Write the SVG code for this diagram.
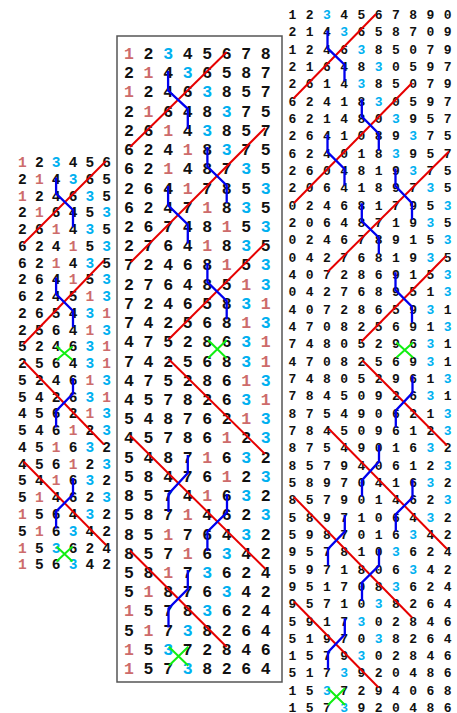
<svg xmlns="http://www.w3.org/2000/svg" width="457" height="713" viewBox="0 0 457 713">
<style>
.t{font-family:"Liberation Mono","Courier New",monospace;font-weight:bold;text-anchor:middle;fill:#111}
.L{font-size:14.5px}.M{font-size:16.5px}.R{font-size:13px}
.r{fill:#cd6b6b}.c{fill:#00b0f0}
.red{stroke:#e60000;stroke-width:2;fill:none}
.blu{stroke:#0000ee;stroke-width:2.3;fill:none}
.grn{stroke:#11ee11;stroke-width:2;fill:none}
</style>
<rect width="457" height="713" fill="#fff"/>
<g id="left" class="t L">
<text x="22.4 39.3 56.1 73.0 89.8 106.7" y="167.0"><tspan class="r">1</tspan>2<tspan class="c">3</tspan>456</text>
<text x="22.4 39.3 56.1 73.0 89.8 106.7" y="183.8">2<tspan class="r">1</tspan>4<tspan class="c">3</tspan>65</text>
<text x="22.4 39.3 56.1 73.0 89.8 106.7" y="200.5"><tspan class="r">1</tspan>246<tspan class="c">3</tspan>5</text>
<text x="22.4 39.3 56.1 73.0 89.8 106.7" y="217.3">2<tspan class="r">1</tspan>645<tspan class="c">3</tspan></text>
<text x="22.4 39.3 56.1 73.0 89.8 106.7" y="234.0">26<tspan class="r">1</tspan>4<tspan class="c">3</tspan>5</text>
<text x="22.4 39.3 56.1 73.0 89.8 106.7" y="250.8">624<tspan class="r">1</tspan>5<tspan class="c">3</tspan></text>
<text x="22.4 39.3 56.1 73.0 89.8 106.7" y="267.6">62<tspan class="r">1</tspan>4<tspan class="c">3</tspan>5</text>
<text x="22.4 39.3 56.1 73.0 89.8 106.7" y="284.3">264<tspan class="r">1</tspan>5<tspan class="c">3</tspan></text>
<text x="22.4 39.3 56.1 73.0 89.8 106.7" y="301.1">6245<tspan class="r">1</tspan><tspan class="c">3</tspan></text>
<text x="22.4 39.3 56.1 73.0 89.8 106.7" y="317.8">2654<tspan class="c">3</tspan><tspan class="r">1</tspan></text>
<text x="22.4 39.3 56.1 73.0 89.8 106.7" y="334.6">2564<tspan class="r">1</tspan><tspan class="c">3</tspan></text>
<text x="22.4 39.3 56.1 73.0 89.8 106.7" y="351.4">5246<tspan class="c">3</tspan><tspan class="r">1</tspan></text>
<text x="22.4 39.3 56.1 73.0 89.8 106.7" y="368.1">2564<tspan class="c">3</tspan><tspan class="r">1</tspan></text>
<text x="22.4 39.3 56.1 73.0 89.8 106.7" y="384.9">5246<tspan class="r">1</tspan><tspan class="c">3</tspan></text>
<text x="22.4 39.3 56.1 73.0 89.8 106.7" y="401.6">5426<tspan class="c">3</tspan><tspan class="r">1</tspan></text>
<text x="22.4 39.3 56.1 73.0 89.8 106.7" y="418.4">4562<tspan class="r">1</tspan><tspan class="c">3</tspan></text>
<text x="22.4 39.3 56.1 73.0 89.8 106.7" y="435.2">546<tspan class="r">1</tspan>2<tspan class="c">3</tspan></text>
<text x="22.4 39.3 56.1 73.0 89.8 106.7" y="451.9">45<tspan class="r">1</tspan>6<tspan class="c">3</tspan>2</text>
<text x="22.4 39.3 56.1 73.0 89.8 106.7" y="468.7">456<tspan class="r">1</tspan>2<tspan class="c">3</tspan></text>
<text x="22.4 39.3 56.1 73.0 89.8 106.7" y="485.4">54<tspan class="r">1</tspan>6<tspan class="c">3</tspan>2</text>
<text x="22.4 39.3 56.1 73.0 89.8 106.7" y="502.2">5<tspan class="r">1</tspan>462<tspan class="c">3</tspan></text>
<text x="22.4 39.3 56.1 73.0 89.8 106.7" y="519.0"><tspan class="r">1</tspan>564<tspan class="c">3</tspan>2</text>
<text x="22.4 39.3 56.1 73.0 89.8 106.7" y="535.7">5<tspan class="r">1</tspan>6<tspan class="c">3</tspan>42</text>
<text x="22.4 39.3 56.1 73.0 89.8 106.7" y="552.5"><tspan class="r">1</tspan>5<tspan class="c">3</tspan>624</text>
<text x="22.4 39.3 56.1 73.0 89.8 106.7" y="569.2"><tspan class="r">1</tspan>56<tspan class="c">3</tspan>42</text>
</g>
<g id="middle">
<rect x="117" y="36" width="165" height="646" fill="none" stroke="#555" stroke-width="1.5"/>
<g class="t M">
<text x="129 148.5 168.1 187.6 207.1 226.7 246.2 265.7" y="59.0"><tspan class="r">1</tspan>2<tspan class="c">3</tspan>45678</text>
<text x="129 148.5 168.1 187.6 207.1 226.7 246.2 265.7" y="78.2">2<tspan class="r">1</tspan>4<tspan class="c">3</tspan>6587</text>
<text x="129 148.5 168.1 187.6 207.1 226.7 246.2 265.7" y="97.4"><tspan class="r">1</tspan>246<tspan class="c">3</tspan>857</text>
<text x="129 148.5 168.1 187.6 207.1 226.7 246.2 265.7" y="116.7">2<tspan class="r">1</tspan>648<tspan class="c">3</tspan>75</text>
<text x="129 148.5 168.1 187.6 207.1 226.7 246.2 265.7" y="135.9">26<tspan class="r">1</tspan>4<tspan class="c">3</tspan>857</text>
<text x="129 148.5 168.1 187.6 207.1 226.7 246.2 265.7" y="155.1">624<tspan class="r">1</tspan>8<tspan class="c">3</tspan>75</text>
<text x="129 148.5 168.1 187.6 207.1 226.7 246.2 265.7" y="174.3">62<tspan class="r">1</tspan>487<tspan class="c">3</tspan>5</text>
<text x="129 148.5 168.1 187.6 207.1 226.7 246.2 265.7" y="193.5">264<tspan class="r">1</tspan>785<tspan class="c">3</tspan></text>
<text x="129 148.5 168.1 187.6 207.1 226.7 246.2 265.7" y="212.8">6247<tspan class="r">1</tspan>8<tspan class="c">3</tspan>5</text>
<text x="129 148.5 168.1 187.6 207.1 226.7 246.2 265.7" y="232.0">26748<tspan class="r">1</tspan>5<tspan class="c">3</tspan></text>
<text x="129 148.5 168.1 187.6 207.1 226.7 246.2 265.7" y="251.2">2764<tspan class="r">1</tspan>8<tspan class="c">3</tspan>5</text>
<text x="129 148.5 168.1 187.6 207.1 226.7 246.2 265.7" y="270.4">72468<tspan class="r">1</tspan>5<tspan class="c">3</tspan></text>
<text x="129 148.5 168.1 187.6 207.1 226.7 246.2 265.7" y="289.6">276485<tspan class="r">1</tspan><tspan class="c">3</tspan></text>
<text x="129 148.5 168.1 187.6 207.1 226.7 246.2 265.7" y="308.9">724658<tspan class="c">3</tspan><tspan class="r">1</tspan></text>
<text x="129 148.5 168.1 187.6 207.1 226.7 246.2 265.7" y="328.1">742568<tspan class="r">1</tspan><tspan class="c">3</tspan></text>
<text x="129 148.5 168.1 187.6 207.1 226.7 246.2 265.7" y="347.3">475286<tspan class="c">3</tspan><tspan class="r">1</tspan></text>
<text x="129 148.5 168.1 187.6 207.1 226.7 246.2 265.7" y="366.5">742568<tspan class="c">3</tspan><tspan class="r">1</tspan></text>
<text x="129 148.5 168.1 187.6 207.1 226.7 246.2 265.7" y="385.7">475286<tspan class="r">1</tspan><tspan class="c">3</tspan></text>
<text x="129 148.5 168.1 187.6 207.1 226.7 246.2 265.7" y="405.0">457826<tspan class="c">3</tspan><tspan class="r">1</tspan></text>
<text x="129 148.5 168.1 187.6 207.1 226.7 246.2 265.7" y="424.2">548762<tspan class="r">1</tspan><tspan class="c">3</tspan></text>
<text x="129 148.5 168.1 187.6 207.1 226.7 246.2 265.7" y="443.4">45786<tspan class="r">1</tspan>2<tspan class="c">3</tspan></text>
<text x="129 148.5 168.1 187.6 207.1 226.7 246.2 265.7" y="462.6">5487<tspan class="r">1</tspan>6<tspan class="c">3</tspan>2</text>
<text x="129 148.5 168.1 187.6 207.1 226.7 246.2 265.7" y="481.8">58476<tspan class="r">1</tspan>2<tspan class="c">3</tspan></text>
<text x="129 148.5 168.1 187.6 207.1 226.7 246.2 265.7" y="501.1">8574<tspan class="r">1</tspan>6<tspan class="c">3</tspan>2</text>
<text x="129 148.5 168.1 187.6 207.1 226.7 246.2 265.7" y="520.3">587<tspan class="r">1</tspan>462<tspan class="c">3</tspan></text>
<text x="129 148.5 168.1 187.6 207.1 226.7 246.2 265.7" y="539.5">85<tspan class="r">1</tspan>764<tspan class="c">3</tspan>2</text>
<text x="129 148.5 168.1 187.6 207.1 226.7 246.2 265.7" y="558.7">857<tspan class="r">1</tspan>6<tspan class="c">3</tspan>42</text>
<text x="129 148.5 168.1 187.6 207.1 226.7 246.2 265.7" y="577.9">58<tspan class="r">1</tspan>7<tspan class="c">3</tspan>624</text>
<text x="129 148.5 168.1 187.6 207.1 226.7 246.2 265.7" y="597.2">5<tspan class="r">1</tspan>876<tspan class="c">3</tspan>42</text>
<text x="129 148.5 168.1 187.6 207.1 226.7 246.2 265.7" y="616.4"><tspan class="r">1</tspan>578<tspan class="c">3</tspan>624</text>
<text x="129 148.5 168.1 187.6 207.1 226.7 246.2 265.7" y="635.6">5<tspan class="r">1</tspan>7<tspan class="c">3</tspan>8264</text>
<text x="129 148.5 168.1 187.6 207.1 226.7 246.2 265.7" y="654.8"><tspan class="r">1</tspan>5<tspan class="c">3</tspan>72846</text>
<text x="129 148.5 168.1 187.6 207.1 226.7 246.2 265.7" y="674.0"><tspan class="r">1</tspan>57<tspan class="c">3</tspan>8264</text>
</g>
</g>
<g id="right" class="t R">
<text x="292.3 309.6 326.8 344.1 361.4 378.7 395.9 413.2 430.5 447.7" y="18.9">12<tspan class="c">3</tspan>4567890</text>
<text x="292.3 309.6 326.8 344.1 361.4 378.7 395.9 413.2 430.5 447.7" y="36.2">214<tspan class="c">3</tspan>658709</text>
<text x="292.3 309.6 326.8 344.1 361.4 378.7 395.9 413.2 430.5 447.7" y="53.6">1246<tspan class="c">3</tspan>85079</text>
<text x="292.3 309.6 326.8 344.1 361.4 378.7 395.9 413.2 430.5 447.7" y="70.9">21648<tspan class="c">3</tspan>0597</text>
<text x="292.3 309.6 326.8 344.1 361.4 378.7 395.9 413.2 430.5 447.7" y="88.2">2614<tspan class="c">3</tspan>85079</text>
<text x="292.3 309.6 326.8 344.1 361.4 378.7 395.9 413.2 430.5 447.7" y="105.6">62418<tspan class="c">3</tspan>0597</text>
<text x="292.3 309.6 326.8 344.1 361.4 378.7 395.9 413.2 430.5 447.7" y="122.9">621480<tspan class="c">3</tspan>957</text>
<text x="292.3 309.6 326.8 344.1 361.4 378.7 395.9 413.2 430.5 447.7" y="140.2">2641089<tspan class="c">3</tspan>75</text>
<text x="292.3 309.6 326.8 344.1 361.4 378.7 395.9 413.2 430.5 447.7" y="157.5">624018<tspan class="c">3</tspan>957</text>
<text x="292.3 309.6 326.8 344.1 361.4 378.7 395.9 413.2 430.5 447.7" y="174.9">2604819<tspan class="c">3</tspan>75</text>
<text x="292.3 309.6 326.8 344.1 361.4 378.7 395.9 413.2 430.5 447.7" y="192.2">20641897<tspan class="c">3</tspan>5</text>
<text x="292.3 309.6 326.8 344.1 361.4 378.7 395.9 413.2 430.5 447.7" y="209.5">024681795<tspan class="c">3</tspan></text>
<text x="292.3 309.6 326.8 344.1 361.4 378.7 395.9 413.2 430.5 447.7" y="226.9">20648719<tspan class="c">3</tspan>5</text>
<text x="292.3 309.6 326.8 344.1 361.4 378.7 395.9 413.2 430.5 447.7" y="244.2">024678915<tspan class="c">3</tspan></text>
<text x="292.3 309.6 326.8 344.1 361.4 378.7 395.9 413.2 430.5 447.7" y="261.5">04276819<tspan class="c">3</tspan>5</text>
<text x="292.3 309.6 326.8 344.1 361.4 378.7 395.9 413.2 430.5 447.7" y="278.9">407286915<tspan class="c">3</tspan></text>
<text x="292.3 309.6 326.8 344.1 361.4 378.7 395.9 413.2 430.5 447.7" y="296.2">042768951<tspan class="c">3</tspan></text>
<text x="292.3 309.6 326.8 344.1 361.4 378.7 395.9 413.2 430.5 447.7" y="313.5">40728659<tspan class="c">3</tspan>1</text>
<text x="292.3 309.6 326.8 344.1 361.4 378.7 395.9 413.2 430.5 447.7" y="330.8">470825691<tspan class="c">3</tspan></text>
<text x="292.3 309.6 326.8 344.1 361.4 378.7 395.9 413.2 430.5 447.7" y="348.2">74805296<tspan class="c">3</tspan>1</text>
<text x="292.3 309.6 326.8 344.1 361.4 378.7 395.9 413.2 430.5 447.7" y="365.5">47082569<tspan class="c">3</tspan>1</text>
<text x="292.3 309.6 326.8 344.1 361.4 378.7 395.9 413.2 430.5 447.7" y="382.8">748052961<tspan class="c">3</tspan></text>
<text x="292.3 309.6 326.8 344.1 361.4 378.7 395.9 413.2 430.5 447.7" y="400.2">78450926<tspan class="c">3</tspan>1</text>
<text x="292.3 309.6 326.8 344.1 361.4 378.7 395.9 413.2 430.5 447.7" y="417.5">875490621<tspan class="c">3</tspan></text>
<text x="292.3 309.6 326.8 344.1 361.4 378.7 395.9 413.2 430.5 447.7" y="434.8">784509612<tspan class="c">3</tspan></text>
<text x="292.3 309.6 326.8 344.1 361.4 378.7 395.9 413.2 430.5 447.7" y="452.2">87549016<tspan class="c">3</tspan>2</text>
<text x="292.3 309.6 326.8 344.1 361.4 378.7 395.9 413.2 430.5 447.7" y="469.5">857940612<tspan class="c">3</tspan></text>
<text x="292.3 309.6 326.8 344.1 361.4 378.7 395.9 413.2 430.5 447.7" y="486.8">58970416<tspan class="c">3</tspan>2</text>
<text x="292.3 309.6 326.8 344.1 361.4 378.7 395.9 413.2 430.5 447.7" y="504.1">857901462<tspan class="c">3</tspan></text>
<text x="292.3 309.6 326.8 344.1 361.4 378.7 395.9 413.2 430.5 447.7" y="521.5">58971064<tspan class="c">3</tspan>2</text>
<text x="292.3 309.6 326.8 344.1 361.4 378.7 395.9 413.2 430.5 447.7" y="538.8">5987016<tspan class="c">3</tspan>42</text>
<text x="292.3 309.6 326.8 344.1 361.4 378.7 395.9 413.2 430.5 447.7" y="556.1">957810<tspan class="c">3</tspan>624</text>
<text x="292.3 309.6 326.8 344.1 361.4 378.7 395.9 413.2 430.5 447.7" y="573.5">5971806<tspan class="c">3</tspan>42</text>
<text x="292.3 309.6 326.8 344.1 361.4 378.7 395.9 413.2 430.5 447.7" y="590.8">951708<tspan class="c">3</tspan>624</text>
<text x="292.3 309.6 326.8 344.1 361.4 378.7 395.9 413.2 430.5 447.7" y="608.1">95710<tspan class="c">3</tspan>8264</text>
<text x="292.3 309.6 326.8 344.1 361.4 378.7 395.9 413.2 430.5 447.7" y="625.5">5917<tspan class="c">3</tspan>02846</text>
<text x="292.3 309.6 326.8 344.1 361.4 378.7 395.9 413.2 430.5 447.7" y="642.8">51970<tspan class="c">3</tspan>8264</text>
<text x="292.3 309.6 326.8 344.1 361.4 378.7 395.9 413.2 430.5 447.7" y="660.1">1579<tspan class="c">3</tspan>02846</text>
<text x="292.3 309.6 326.8 344.1 361.4 378.7 395.9 413.2 430.5 447.7" y="677.4">517<tspan class="c">3</tspan>920486</text>
<text x="292.3 309.6 326.8 344.1 361.4 378.7 395.9 413.2 430.5 447.7" y="694.8">15<tspan class="c">3</tspan>7294068</text>
<text x="292.3 309.6 326.8 344.1 361.4 378.7 395.9 413.2 430.5 447.7" y="712.1">157<tspan class="c">3</tspan>920486</text>
</g>
<g id="connectors">
<g class="red">
<line x1="23.5" y1="243.5" x2="106" y2="161"/>
<line x1="104" y1="260.5" x2="23.5" y2="344"/>
<line x1="23.5" y1="361" x2="104" y2="444.5"/>
<line x1="23.5" y1="461.5" x2="106" y2="545"/>
<line x1="226.7" y1="52" x2="130" y2="147"/>
<line x1="265" y1="128" x2="131" y2="262"/>
<line x1="265" y1="243.5" x2="168.5" y2="339.5"/>
<line x1="168.5" y1="359" x2="265" y2="454"/>
<line x1="130" y1="435.5" x2="265.5" y2="569"/>
<line x1="130" y1="550.5" x2="226.7" y2="647"/>
<line x1="376" y1="14" x2="293.5" y2="98.5"/>
<line x1="412" y1="83" x2="294" y2="203"/>
<line x1="449" y1="151.5" x2="327.5" y2="272"/>
<line x1="446" y1="256" x2="361.5" y2="341.5"/>
<line x1="362.5" y1="360.5" x2="447" y2="445.5"/>
<line x1="328.5" y1="428.5" x2="447" y2="549"/>
<line x1="294" y1="497" x2="412" y2="617.5"/>
<line x1="294" y1="601.5" x2="378.5" y2="687.5"/>
</g>
<g class="blu">
<polyline points="56.1,177.5 56.1,193.5 73,210 73,227.2"/>
<polyline points="56.1,277.5 56.1,294 73,311 73,327"/>
<polyline points="73,378 73,393.5 56.1,411 56.1,427.5"/>
<polyline points="73,478 73,494.5 56.1,511.5 56.1,528.5"/>
<polyline points="168.1,71 168.1,90.5 187.8,108.8 187.8,129"/>
<polyline points="207.4,147 207.4,166.5 226.7,185.5 226.7,203"/>
<polyline points="168.1,186 168.1,205.2 187.8,224.4 187.8,243.5"/>
<polyline points="207.4,263 207.4,282 226.7,301 226.7,319.5"/>
<polyline points="187.8,455 187.8,473 168.5,494 168.5,512"/>
<polyline points="227,494 227,512.3 207.4,531.8 207.4,551"/>
<polyline points="187.8,570 187.8,589 168.5,608.5 168.5,627.5"/>
<polyline points="327.5,30.5 327.5,48.2 344.5,64.7 344.5,81.3"/>
<polyline points="361.8,99.2 361.8,116.5 378.8,133.8 378.8,150.8"/>
<polyline points="327.5,134.5 327.5,152 344.5,169 344.5,185.5"/>
<polyline points="395.5,168.5 395.5,186 412,203.3 412,219.5"/>
<polyline points="361.8,203.3 361.8,221 378.8,237.5 378.8,254.3"/>
<polyline points="395.5,272.3 395.5,290 412,306.8 412,322.7"/>
<polyline points="412.5,375.5 412.5,392.7 395.8,410.5 395.8,427.5"/>
<polyline points="379,445 379,461.5 362,480.2 362,496.5"/>
<polyline points="412.5,479.5 412.5,497.5 395.8,514.2 395.8,531.5"/>
<polyline points="344.8,515 344.8,531.5 328,549 328,565.5"/>
<polyline points="379,549 379,565.5 362,582.5 362,601"/>
<polyline points="344.8,618.3 344.8,634.5 328,652.2 328,669.5"/>
</g>
<g class="grn">
<path d="M56.5,346.5L72.5,360M56.5,360L72.5,346.5"/>
<path d="M56.5,546.5L72.5,561.5M56.5,561.5L72.5,546.5"/>
<path d="M208,340L226.7,358.3M208,358.3L226.7,340"/>
<path d="M168.8,646.7L188.3,665.7M168.8,665.7L188.3,646.7"/>
<path d="M396.5,342.5L413,357.5M396.5,357.5L413,342.5"/>
<path d="M328,688.3L345,705M328,705L345,688.3"/>
</g>
</g>
</svg>
